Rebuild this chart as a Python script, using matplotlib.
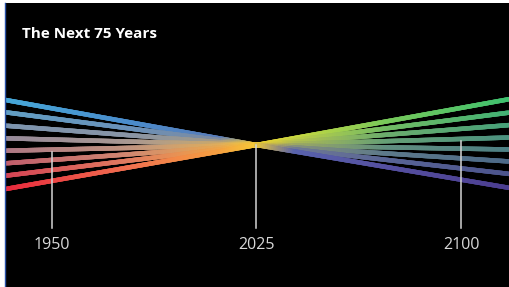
import numpy as np
import matplotlib
matplotlib.use("Agg")
import matplotlib.pyplot as plt
from matplotlib.collections import LineCollection
from matplotlib.colors import to_rgb

# Dane
title = "The Next 75 Years"
tick_years = [1950, 2025, 2100]
start_year = 1933
pivot_year = 2025
end_year = 2118
pivot_value = 0
left_values = [45, 32.7, 19.3, 6.7, -5.7, -18.3, -30.7, -44]
right_values = [46, 32.5, 20, 7.5, -4.5, -16.5, -29, -43]
tick_tops = [-6.5, 0, 4]
tick_bottom = -83

# Kolory gradientu: wiersze = linia gorna / srodkowa / dolna,
# kolumny = koniec zewnetrzny, srodek, blisko punktu zbieznosci, punkt zbieznosci
STOPS = [0.0, 0.5, 0.86, 1.0]
LEFT_COLORS = [
    ["#46a8d8", "#4a8ccc", "#5a7cb8", "#f2c83a"],
    ["#a48590", "#b89a88", "#dcb060", "#f5c838"],
    ["#e8283c", "#f07050", "#f5a040", "#f5c838"],
]
RIGHT_COLORS = [
    ["#3cc070", "#78c85a", "#cad840", "#f2d430"],
    ["#4e8a82", "#62987a", "#a8b458", "#f0d030"],
    ["#4b3d90", "#5550a0", "#5862ac", "#e0c040"],
]


def row_colors(table, frac):
    """Interpolacja kolorow pomiedzy wierszami (gora -> dol)."""
    rows = np.array([[to_rgb(c) for c in r] for r in table])
    pos = frac * (len(rows) - 1)
    i = min(int(pos), len(rows) - 2)
    w = pos - i
    return rows[i] * (1 - w) + rows[i + 1] * w


def gradient_line(ax, x0, y0, x1, y1, stops_rgb, n=120, lw=3.2):
    t = np.linspace(0, 1, n + 1)
    xs = x0 + (x1 - x0) * t
    ys = y0 + (y1 - y0) * t
    pts = np.column_stack([xs, ys]).reshape(-1, 1, 2)
    segs = np.concatenate([pts[:-1], pts[1:]], axis=1)
    tm = (t[:-1] + t[1:]) / 2
    cols = np.column_stack(
        [np.interp(tm, STOPS, stops_rgb[:, k]) for k in range(3)]
    )
    # projecting - zachodzace konce segmentow, bez przerw miedzy nimi
    lc = LineCollection(segs, colors=cols, linewidths=lw,
                        capstyle="projecting", zorder=2)
    ax.add_collection(lc)


fig = plt.figure(figsize=(5.09, 2.87), dpi=100, facecolor="white")
ax = fig.add_axes([5 / 509, 0, 504 / 509, 284 / 287])
ax.set_facecolor("black")

n_lines = len(left_values)
for i in range(n_lines):
    frac = i / (n_lines - 1)
    gradient_line(ax, start_year, left_values[i], pivot_year, pivot_value,
                  row_colors(LEFT_COLORS, frac))
    gradient_line(ax, end_year, right_values[i], pivot_year, pivot_value,
                  row_colors(RIGHT_COLORS, frac))

# Pionowe znaczniki lat
for year, top in zip(tick_years, tick_tops):
    ax.plot([year, year], [tick_bottom, top], color="#d4d4d4", lw=1.1, zorder=3)
    ax.text(year, tick_bottom - 17, str(year), color="#d8d8d8", fontsize=11.5,
            ha="center", va="center", family="Open Sans")

ax.text(0.034, 0.89, title, transform=ax.transAxes, color="white",
        fontsize=11, fontweight="bold", ha="left", va="center", family="Open Sans")

ax.set_xlim(1932.8, 2117.6)
ax.set_ylim(-142, 142)
ax.set_xticks([])
ax.set_yticks([])
for name, sp in ax.spines.items():
    sp.set_visible(name == "left")
ax.spines["left"].set_color("#2a52a8")
ax.spines["left"].set_linewidth(1.0)

fig.savefig("out.png", dpi=100, facecolor="white")
